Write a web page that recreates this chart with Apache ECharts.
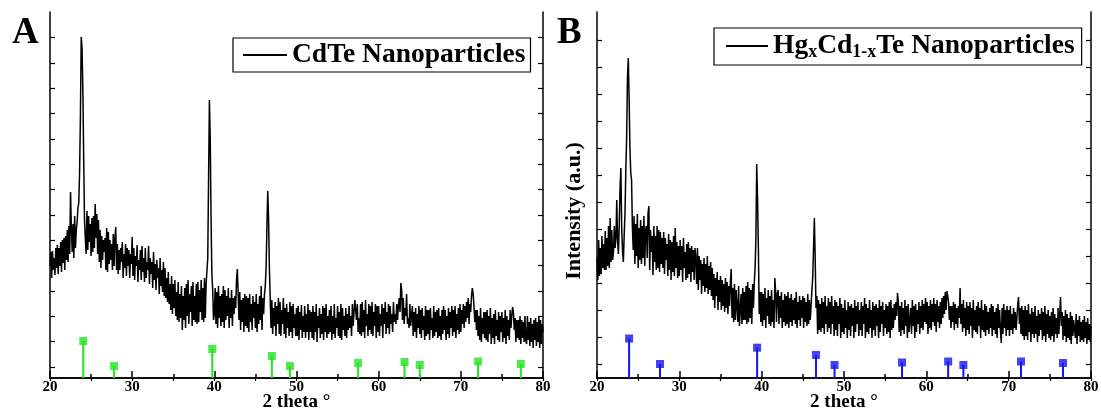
<!DOCTYPE html>
<html><head><meta charset="utf-8">
<script src="https://cdn.jsdelivr.net/npm/echarts@6/dist/echarts.min.js"></script>
<style>html,body{margin:0;padding:0;background:#fff}#c{width:1101px;height:412px}</style>
</head><body><div id="c"></div>
<script>
// scan: 2θ from 20° to 80°, step 0.1° (one row = 1°)
const scanStart = 20, scanStep = 0.1;
const cdteIntensity = [
112,126,100,127,108,120,103,130,110,133,
104,130,112,136,106,138,115,140,108,142,
118,148,116,152,124,186,150,126,154,120,
162,130,148,156,170,175,205,260,341,330,
288,220,158,140,124,167,128,162,136,154,
122,160,126,162,130,174,140,164,124,158,
116,148,110,142,118,138,126,140,108,150,
106,146,114,138,118,134,108,144,112,140,
151,108,134,104,128,108,130,116,136,100,
124,110,134,102,130,112,128,100,124,114,
141,102,130,98,122,112,133,96,118,108,
128,98,132,106,120,96,130,100,116,108,
132,94,120,104,116,90,126,98,114,88,
118,100,110,84,120,92,108,86,116,82,
110,80,100,76,106,74,94,68,102,64,
94,70,98,62,86,58,96,56,84,60,
92,48,82,58,90,50,94,62,98,54,
84,66,92,52,96,58,82,56,94,54,
96,56,88,66,98,58,90,56,100,60,
94,96,120,200,278,240,160,105,88,58,
64,90,54,86,50,92,60,82,52,84,
56,92,50,88,58,82,62,90,50,80,
60,88,52,80,64,82,70,98,109,84,
58,86,48,78,56,80,46,84,52,82,
50,80,46,84,56,74,48,82,60,76,
50,84,46,74,54,82,58,92,48,80,
64,84,92,110,150,187,160,110,80,50,
78,44,70,52,76,42,72,54,80,44,
76,42,68,54,80,44,70,40,74,50,
66,42,76,46,72,40,74,50,64,42,
70,42,72,38,66,48,73,40,62,46,
72,40,64,46,74,38,68,46,66,40,
72,38,66,46,74,36,62,50,70,40,
64,44,72,38,70,46,74,40,62,44,
68,46,72,38,62,44,74,40,60,50,
72,42,66,40,74,38,70,48,62,42,
70,40,64,48,72,50,62,42,74,52,
66,78,76,58,74,46,60,44,74,42,
76,46,68,40,78,52,64,42,74,48,
72,44,76,42,66,52,74,40,72,46,
72,42,64,52,74,40,70,54,76,44,
66,50,74,44,72,54,64,46,76,56,
64,54,74,58,72,80,66,95,88,58,
80,54,70,62,84,54,60,50,74,52,
52,72,42,66,46,70,40,64,50,72,
44,68,40,70,48,62,38,72,42,68,
44,68,38,70,48,60,40,72,42,66,
46,68,40,70,42,62,38,68,44,72,
48,68,38,62,44,70,40,66,50,72,
42,68,46,72,40,64,48,70,44,74,
46,68,54,74,50,72,56,76,60,80,
54,74,66,82,90,84,72,56,68,48,
68,42,62,38,70,36,60,44,66,40,
66,38,68,36,62,44,70,34,60,40,
64,34,68,42,58,38,66,36,62,46,
66,36,60,40,68,34,62,42,58,38,
68,50,62,71,66,48,60,36,58,40,
58,38,62,34,58,40,56,36,62,38,
34,62,38,56,32,60,36,54,30,58,
38,60,32,56,36,62,30,58,34,54,
46];
const hgcdteIntensity = [
120,98,138,102,130,104,142,110,134,108,
147,108,140,112,152,110,160,116,148,118,
126,152,130,140,178,138,124,152,190,210,
150,128,116,142,165,208,240,300,320,280,
230,205,198,150,128,162,114,154,122,164,
110,150,118,158,114,152,120,162,112,148,
152,120,165,172,108,148,126,142,103,152,
116,142,108,152,110,148,106,146,114,140,
110,146,104,140,118,134,102,144,108,138,
98,136,106,142,102,150,110,136,100,132,
102,138,108,132,96,140,110,126,98,134,
100,136,104,130,96,132,106,128,98,130,
120,94,130,88,122,98,118,84,114,92,
120,86,114,90,122,84,112,88,116,82,
110,78,104,70,100,82,106,68,98,76,
102,68,98,72,94,66,100,70,96,64,
92,72,96,109,60,90,56,94,58,88,
86,56,92,52,51,84,54,90,58,86,
58,92,54,96,56,90,60,88,54,94,
70,95,110,140,214,180,130,64,86,56,
86,52,84,58,90,50,80,62,88,54,
82,52,88,56,78,50,100,86,56,84,
88,54,82,60,86,50,78,56,84,52,
82,54,86,50,80,56,84,52,78,58,
80,54,86,50,76,58,82,52,78,60,
82,50,80,56,76,52,84,54,78,58,
72,88,100,130,160,120,70,82,44,78,
48,74,46,80,50,76,44,82,54,72,
46,80,50,76,44,82,54,72,42,78,
48,76,42,72,54,80,40,74,46,70,
44,78,50,68,40,76,48,72,42,74,
52,70,40,78,46,72,54,76,42,68,
48,76,42,72,54,80,40,74,46,70,
44,78,50,68,40,76,48,72,42,74,
52,70,40,78,46,72,54,76,42,68,
50,74,44,72,46,76,40,78,48,70,
50,74,58,76,62,85,76,46,72,42,
76,48,70,44,78,52,72,40,74,46,
48,70,44,78,52,72,40,74,46,68,
54,76,44,72,50,78,48,74,56,80,
54,76,44,72,50,78,48,74,56,80,
52,74,46,78,56,72,50,76,54,80,
60,82,64,86,68,87,82,76,58,72,
50,72,56,76,48,74,54,70,50,72,
60,90,54,74,46,78,50,70,42,76,
48,72,44,76,52,70,40,78,48,68,
46,72,44,76,52,70,40,78,48,68,
46,74,42,72,48,66,44,70,50,74,
42,72,48,66,44,70,40,74,50,68,
48,35,70,44,74,50,68,42,72,48,
68,42,72,48,64,44,70,50,66,48,
60,74,81,54,70,44,72,42,68,38,
72,42,68,38,74,46,64,36,70,44,
66,40,72,44,62,36,68,42,64,48,
70,38,66,42,72,36,64,44,68,40,
62,38,66,42,70,36,64,44,60,40,
70,44,64,81,52,66,38,62,42,68,
36,64,40,60,38,66,34,62,42,58,
60,40,64,34,58,42,62,36,56,38,
58,36,62,40,56,34,60,38,54,36,
52];
// reference (standard) diffraction lines
const cdteRefAngles  = [24.05, 27.8, 39.75, 47.0, 49.2, 57.5, 63.15, 65.0, 72.1, 77.3];
const cdteRefHeights = [37, 12, 29, 22, 12, 15, 16, 13, 16.5, 14];
const hgRefAngles    = [23.9, 27.65, 39.45, 46.6, 48.85, 57.05, 62.65, 64.5, 71.5, 76.6];
const hgRefHeights   = [39.5, 14, 30.3, 23, 13, 15.5, 16.5, 13, 16.5, 15];
// axis ticks
const leftYTicks  = [11, 37, 62, 87, 113, 138, 163, 189, 214, 239, 265, 290, 315, 341];
const rightYTicks = [14, 41, 68, 95, 122, 149, 176, 203, 230, 257, 284, 311, 338];
const xMin = 20, xMax = 80, yMin = 0, yMax = 366;
const seriesNames = ['CdTe Nanoparticles', 'HgxCd1-xTe Nanoparticles'];

const toPairs = arr => arr.map((v, i) => [+(scanStart + i * scanStep).toFixed(2), v]);
const refPairs = (a, h) => a.map((x, i) => [x, h[i]]);

const FONT = '"Liberation Serif", "Times New Roman", serif';
const GREEN = '#22e422', BLUE = '#1414f0';

function xBottom(g) {
  return {
    gridIndex: g, type: 'value', min: xMin, max: xMax, interval: 10, position: 'bottom',
    axisLine: {lineStyle: {color: '#000', width: 1.5}},
    axisTick: {inside: true, length: 7, lineStyle: {color: '#000', width: 1.5}},
    minorTick: {show: true, splitNumber: 2, length: 4, lineStyle: {color: '#000', width: 1.5}},
    splitLine: {show: false},
    axisLabel: {color: '#000', fontFamily: FONT, fontWeight: 'bold', fontSize: 15, margin: 2},
    name: '2 theta \u00b0', nameLocation: 'middle', nameGap: 15, nameMoveOverlap: false,
    nameTextStyle: {color: '#000', fontFamily: FONT, fontWeight: 'bold', fontSize: 19}
  };
}
function xTop(g) {
  return {
    gridIndex: g, type: 'value', min: xMin, max: xMax, interval: 5, position: 'top',
    axisLine: {lineStyle: {color: '#000', width: 1.5}},
    axisTick: {inside: true, length: 3, lineStyle: {color: '#000', width: 1.2}},
    axisLabel: {show: false}, splitLine: {show: false}
  };
}
function yAx(g, pos, ticks, name) {
  const o = {
    gridIndex: g, type: 'value', min: yMin, max: yMax, position: pos,
    axisLine: {show: true, lineStyle: {color: '#000', width: 1.5}},
    axisTick: {show: true, inside: true, length: 5, customValues: ticks, lineStyle: {color: '#000', width: 1.2}},
    axisLabel: {show: false}, splitLine: {show: false}
  };
  if (name) {
    o.name = name; o.nameLocation = 'middle'; o.nameGap = 12; o.nameMoveOverlap = false;
    o.nameTextStyle = {color: '#000', fontFamily: FONT, fontWeight: 'bold', fontSize: 22, padding: [0, 32, 0, 0]};
  }
  return o;
}

const chart = echarts.init(document.getElementById('c'), null, {renderer: 'canvas'});
chart.setOption({
  animation: false,
  backgroundColor: '#fff',
  grid: [
    {left: 50, top: 12, width: 493, height: 366, outerBoundsMode: 'none', containLabel: false},
    {left: 597, top: 12, width: 494, height: 366, outerBoundsMode: 'none', containLabel: false}
  ],
  xAxis: [xBottom(0), xTop(0), xBottom(1), xTop(1)],
  yAxis: [yAx(0, 'left', leftYTicks), yAx(0, 'right', leftYTicks), yAx(1, 'left', rightYTicks, 'Intensity (a.u.)'), yAx(1, 'right', rightYTicks)],
  legend: [
    {data: [seriesNames[0]], left: 233, top: 38, orient: 'vertical',
     padding: [3, 5, 3, 10], itemWidth: 44, itemHeight: 2, icon: 'rect',
     borderColor: '#000', borderWidth: 1.2,
     textStyle: {color: '#000', fontFamily: FONT, fontWeight: 'bold', fontSize: 27.5}},
    {data: [seriesNames[1]], left: 714, top: 28, orient: 'vertical',
     padding: [4, 7, 4, 12], itemWidth: 42, itemHeight: 2, icon: 'rect',
     borderColor: '#000', borderWidth: 1.2,
     formatter: () => '{n|Hg}{s|x}{n|Cd}{s|1-x}{n|Te Nanoparticles}',
     textStyle: {color: '#000', fontFamily: FONT, fontWeight: 'bold', fontSize: 27,
       rich: {
         n: {fontFamily: FONT, fontWeight: 'bold', fontSize: 27.5, lineHeight: 30, verticalAlign: 'middle', color: '#000'},
         s: {fontFamily: FONT, fontWeight: 'bold', fontSize: 18, lineHeight: 30, verticalAlign: 'bottom', color: '#000'}
       }}}
  ],
  graphic: [
    {type: 'text', left: 12, top: 15, style: {text: 'A', font: 'bold 37px ' + FONT, fill: '#000'}},
    {type: 'text', left: 557, top: 15, style: {text: 'B', font: 'bold 37px ' + FONT, fill: '#000'}}
  ],
  series: [
    {name: seriesNames[0], type: 'line', xAxisIndex: 0, yAxisIndex: 0, data: toPairs(cdteIntensity),
     showSymbol: false, symbol: 'none', lineStyle: {color: '#000', width: 1.5}, itemStyle: {color: '#000'}},
    {type: 'bar', xAxisIndex: 0, yAxisIndex: 0, data: refPairs(cdteRefAngles, cdteRefHeights),
     barWidth: 2, itemStyle: {color: GREEN}},
    {type: 'scatter', xAxisIndex: 0, yAxisIndex: 0, data: refPairs(cdteRefAngles, cdteRefHeights),
     symbol: 'rect', symbolSize: 8, itemStyle: {color: GREEN}},
    {name: seriesNames[1], type: 'line', xAxisIndex: 2, yAxisIndex: 2, data: toPairs(hgcdteIntensity),
     showSymbol: false, symbol: 'none', lineStyle: {color: '#000', width: 1.5}, itemStyle: {color: '#000'}},
    {type: 'bar', xAxisIndex: 2, yAxisIndex: 2, data: refPairs(hgRefAngles, hgRefHeights),
     barWidth: 2, itemStyle: {color: BLUE}},
    {type: 'scatter', xAxisIndex: 2, yAxisIndex: 2, data: refPairs(hgRefAngles, hgRefHeights),
     symbol: 'rect', symbolSize: 8, itemStyle: {color: BLUE}}
  ]
});
</script></body></html>
